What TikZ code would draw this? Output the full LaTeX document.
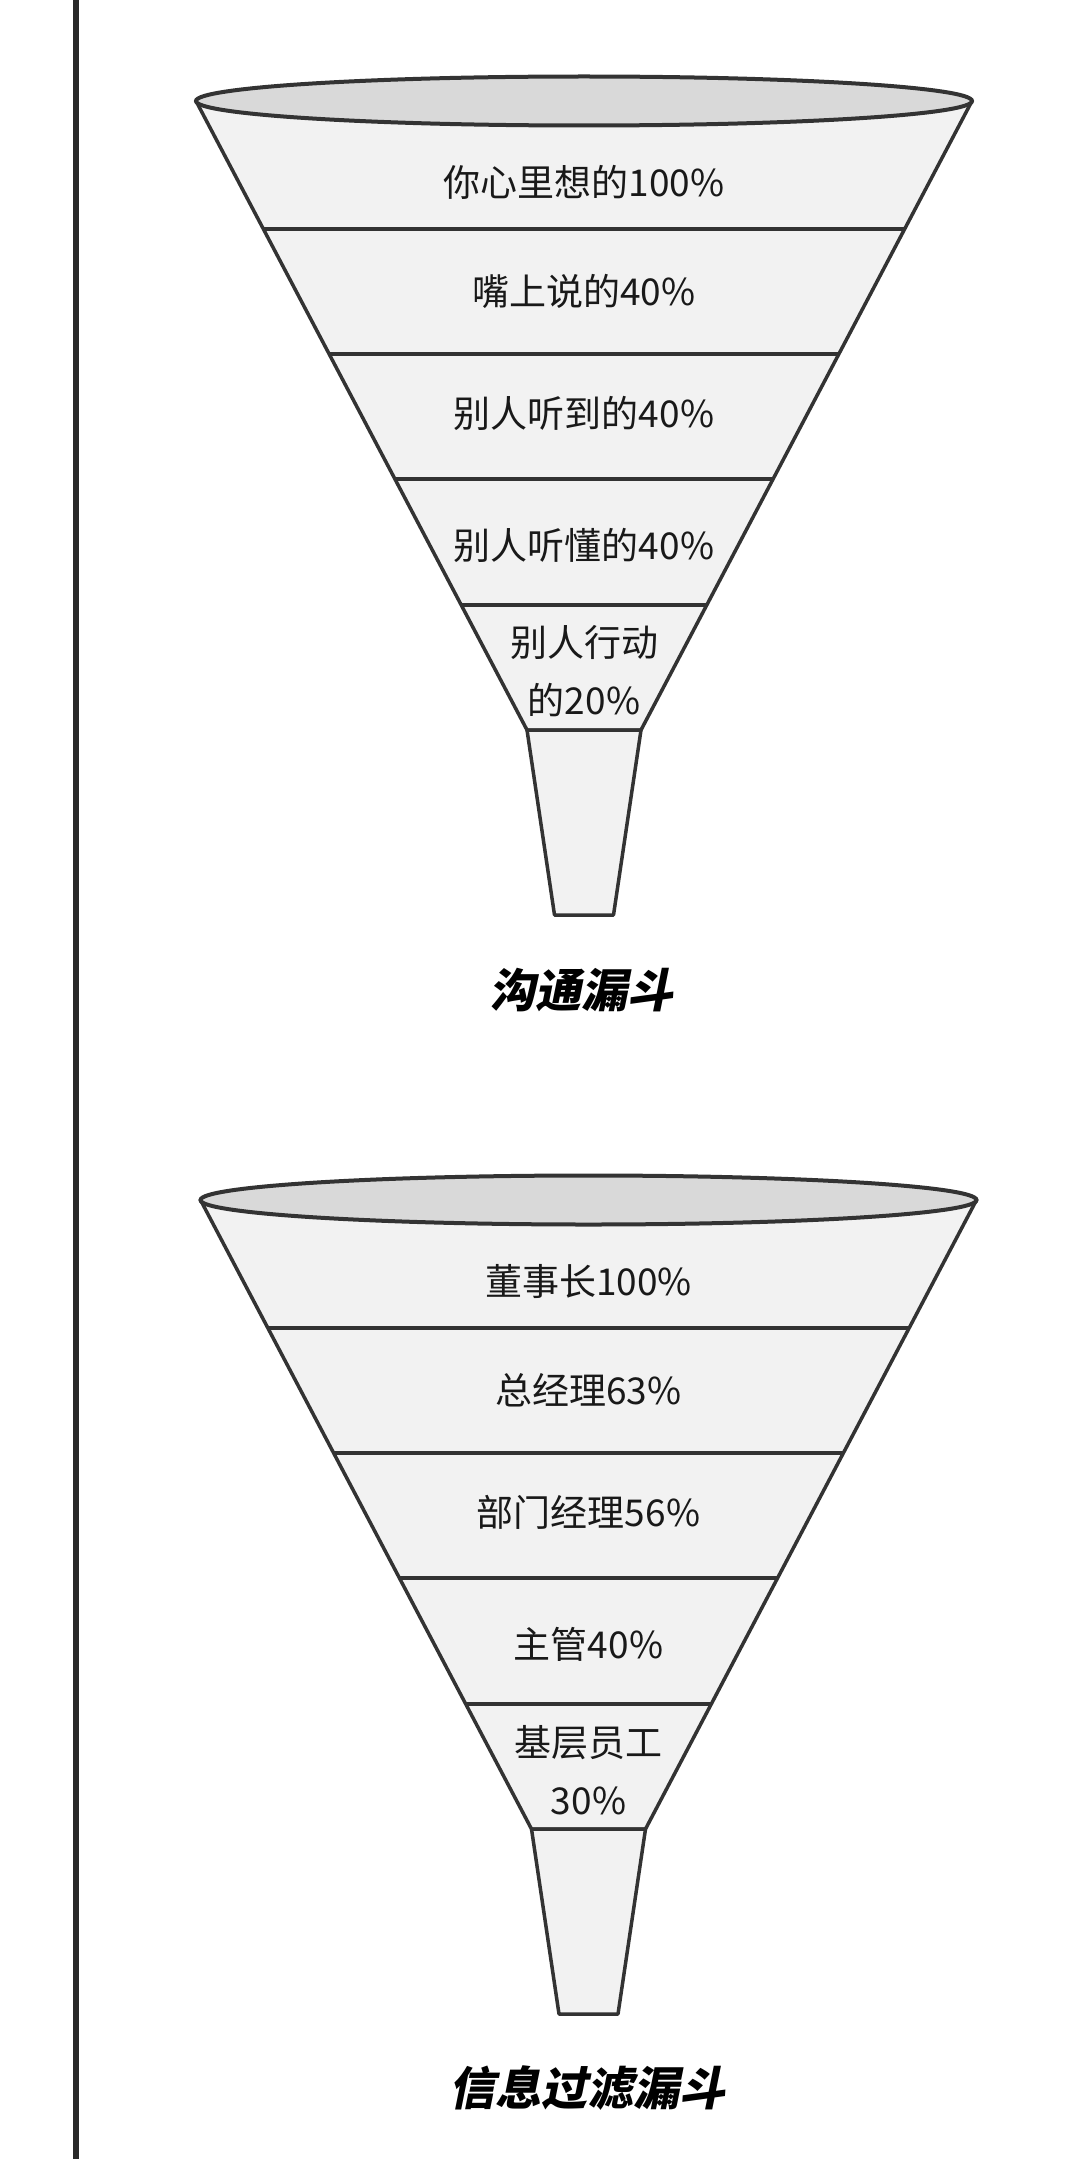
\documentclass[tikz,border=0pt]{standalone}
\usepackage{fontspec}
\newfontfamily\cjk{Noto Sans CJK SC}
\newfontfamily\cjktitle[FakeSlant=0.2]{Noto Sans CJK SC}
\definecolor{bandgray}{HTML}{F2F2F2}
\definecolor{rimgray}{HTML}{D9D9D9}
\definecolor{edgegray}{HTML}{333333}
\tikzset{
  band/.style={fill=bandgray, draw=edgegray, line width=3.5pt, line join=round},
  divider/.style={draw=edgegray, line width=4pt},
  rim/.style={fill=rimgray, draw=edgegray, line width=4pt},
  bandtext/.style={font=\cjk\fontsize{37}{58}\selectfont, text=black!90, align=center, inner sep=0pt},
  funneltitle/.style={font=\cjktitle\bfseries\fontsize{46}{50}\selectfont, inner sep=0pt}
}
\begin{document}
\begin{tikzpicture}[x=1pt, y=-1pt]
\useasboundingbox[fill=white] (0,0) rectangle (1080,2159);
\draw[edgegray!80!black, line width=6pt] (76,0) -- (76,2159);

% funnel 1
\begin{scope}[shift={(584,0)}]
\draw[band] (-388,101) -- (388,101) -- (57,730) -- (-57,730) -- cycle;
\draw[band] (-57,730) -- (57,730) -- (29.5,915) -- (-29.5,915) -- cycle;
\foreach \y/\w in {229/320.6, 354/254.9, 479/189.1, 605/122.8}
  \draw[divider] (-\w,\y) -- (\w,\y);
\draw[rim] (0,101) ellipse [x radius=388, y radius=24.5];
\node[bandtext] (c1) at (0,182) {你心里想的100\%};
\node[bandtext] (c2) at (0,291) {嘴上说的40\%};
\node[bandtext] (c3) at (0,413) {别人听到的40\%};
\node[bandtext] (c4) at (0,545) {别人听懂的40\%};
\node[bandtext] (c5) at (0,671) {别人行动\\的20\%};
\node[funneltitle] (ctitle) at (-3,990) {沟通漏斗};
\end{scope}

% funnel 2
\begin{scope}[shift={(588.5,1099)}]
\draw[band] (-388,101) -- (388,101) -- (57,730) -- (-57,730) -- cycle;
\draw[band] (-57,730) -- (57,730) -- (29.5,915) -- (-29.5,915) -- cycle;
\foreach \y/\w in {229/320.6, 354/254.9, 479/189.1, 605/122.8}
  \draw[divider] (-\w,\y) -- (\w,\y);
\draw[rim] (0,101) ellipse [x radius=388, y radius=24.5];
\node[bandtext] (f1) at (0,182) {董事长100\%};
\node[bandtext] (f2) at (0,291) {总经理63\%};
\node[bandtext] (f3) at (0,413) {部门经理56\%};
\node[bandtext] (f4) at (0,545) {主管40\%};
\node[bandtext] (f5) at (0,671) {基层员工\\30\%};
\node[funneltitle] (ftitle) at (-1.5,989) {信息过滤漏斗};
\end{scope}
\end{tikzpicture}
\end{document}
